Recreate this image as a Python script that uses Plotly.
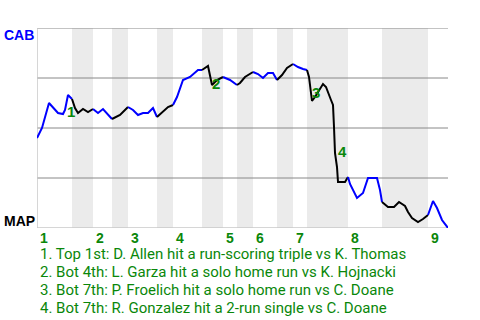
import plotly.graph_objects as go

# Game progress (plate-appearance scale) and CAB win probability
progress = [0, 5, 12, 16, 21, 26, 28, 31, 35, 38, 41, 46, 51, 56, 61, 66, 71, 75, 83, 91,
            96, 101, 106, 111, 116, 120, 126, 131, 136, 140, 146, 153, 161, 165, 171, 175,
            180, 186, 193, 200, 203, 208, 216, 221, 226, 231, 236, 240, 245, 250, 256, 261,
            266, 270, 272, 275, 278, 286, 289, 294, 296, 297, 298, 300, 301, 308, 311, 313,
            320, 326, 331, 340, 343, 345, 351, 357, 362, 368, 371, 375, 381, 386, 391, 396,
            400, 405, 411]
cab_wp = [0.45, 0.50, 0.625, 0.605, 0.575, 0.57, 0.59, 0.665, 0.645, 0.60, 0.575, 0.595,
          0.58, 0.595, 0.575, 0.595, 0.565, 0.545, 0.565, 0.605, 0.59, 0.565, 0.575, 0.575,
          0.60, 0.555, 0.58, 0.605, 0.615, 0.655, 0.74, 0.755, 0.79, 0.79, 0.81, 0.715,
          0.74, 0.755, 0.74, 0.715, 0.725, 0.755, 0.78, 0.77, 0.75, 0.775, 0.775, 0.74,
          0.765, 0.80, 0.82, 0.805, 0.795, 0.79, 0.755, 0.635, 0.655, 0.72, 0.705, 0.64,
          0.615, 0.505, 0.375, 0.305, 0.23, 0.23, 0.255, 0.22, 0.15, 0.175, 0.25, 0.25,
          0.19, 0.13, 0.105, 0.105, 0.13, 0.11, 0.08, 0.05, 0.03, 0.045, 0.065, 0.135,
          0.10, 0.04, 0.0]

# Half-inning boundaries (top 1, bot 1, top 2, ...), last value = game end
half_starts = [0, 35, 56, 75, 91, 120, 136, 165, 186, 200, 216, 240, 256, 270, 311, 345, 391, 411]
inning_labels = ["1", "2", "3", "4", "5", "6", "7", "8", "9"]

# Key events
event_ids = ["1", "2", "3", "4"]
event_x = [34, 179, 279, 305]
event_y = [0.585, 0.725, 0.68, 0.385]
event_text = [
    "1. Top 1st: D. Allen hit a run-scoring triple vs K. Thomas",
    "2. Bot 4th: L. Garza hit a solo home run vs K. Hojnacki",
    "3. Bot 7th: P. Froelich hit a solo home run vs C. Doane",
    "4. Bot 7th: R. Gonzalez hit a 2-run single vs C. Doane",
]
grid_levels = [0.25, 0.5, 0.75, 1.0]

GREEN = "#0a870a"
END = half_starts[-1]
fig = go.Figure()

# segments per half inning
for i in range(len(half_starts) - 1):
    a, b = half_starts[i], half_starts[i + 1]
    xs = [x for x in progress if a <= x <= b]
    ys = [cab_wp[progress.index(x)] for x in xs]
    fig.add_trace(go.Scatter(x=xs, y=ys, mode="lines",
                             line=dict(color="#0000ff" if i % 2 == 0 else "black", width=2),
                             hoverinfo="skip", showlegend=False))

shapes = []
for i in range(1, len(half_starts) - 1, 2):
    shapes.append(dict(type="rect", xref="x", yref="y", x0=half_starts[i], x1=half_starts[i + 1],
                       y0=0, y1=1, fillcolor="#ebebeb", line=dict(width=0), layer="below"))
for g in grid_levels:
    shapes.append(dict(type="line", xref="x", yref="y", x0=0, x1=END, y0=g, y1=g,
                       line=dict(color="#888888", width=1), layer="below"))
shapes.append(dict(type="line", xref="x", yref="y", x0=0, x1=END, y0=0, y1=0,
                   line=dict(color="#c8c8c8", width=1.5), layer="below"))
shapes.append(dict(type="line", xref="x", yref="y", x0=0, x1=0, y0=0, y1=1,
                   line=dict(color="#c8c8c8", width=1.5), layer="below"))

ann = []
for k, lab in enumerate(inning_labels):
    ann.append(dict(x=half_starts[2 * k] / END, y=-0.052, xref="paper", yref="paper", text=lab,
                    showarrow=False, xanchor="left", yanchor="middle", xshift=1,
                    font=dict(family="Liberation Sans", size=14, color=GREEN, weight="bold")))
for eid, ex, ey in zip(event_ids, event_x, event_y):
    ann.append(dict(x=ex, y=ey, xref="x", yref="y", text=eid, showarrow=False,
                    xanchor="center", yanchor="middle",
                    font=dict(family="Liberation Sans", size=15, color=GREEN, weight="bold")))
for k, t in enumerate(event_text):
    ann.append(dict(x=1 / END, y=-0.132 - 0.09 * k, xref="paper", yref="paper", text=t,
                    showarrow=False, xanchor="left", yanchor="middle",
                    font=dict(family="Roboto", size=15, color=GREEN)))
ann.append(dict(x=-35 / END, y=0.965, xref="paper", yref="paper", text="CAB", showarrow=False,
                xanchor="left", yanchor="middle",
                font=dict(family="Liberation Sans", size=14, color="#0000ff", weight="bold")))
ann.append(dict(x=-35 / END, y=0.035, xref="paper", yref="paper", text="MAP", showarrow=False,
                xanchor="left", yanchor="middle",
                font=dict(family="Liberation Sans", size=14, color="black", weight="bold")))

fig.update_layout(
    width=480, height=320, margin=dict(l=37, r=32, t=28, b=92),
    paper_bgcolor="white", plot_bgcolor="white",
    xaxis=dict(range=[0, END], showgrid=False, zeroline=False, showticklabels=False,
               fixedrange=True),
    yaxis=dict(range=[0, 1], showgrid=False, zeroline=False, showticklabels=False, fixedrange=True),
    shapes=shapes, annotations=ann, showlegend=False,
)
fig.write_html("out.html", config={"displayModeBar": False})
